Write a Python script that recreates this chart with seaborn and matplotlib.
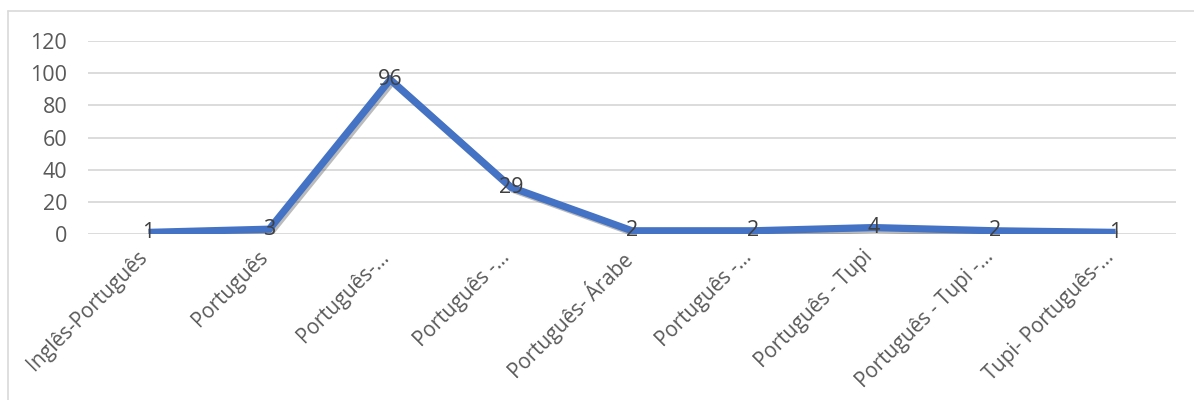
import matplotlib
matplotlib.use("Agg")
import matplotlib.pyplot as plt
import matplotlib.patheffects as pe
import matplotlib.transforms as mtransforms
from matplotlib.lines import Line2D
import seaborn as sns
import pandas as pd

# data
categorias = ["Inglês-Português", "Português", "Português-...", "Português -...",
              "Português- Árabe", "Português -...", "Português - Tupi",
              "Português - Tupi -...", "Tupi- Português-..."]
valores = [1, 3, 96, 29, 2, 2, 4, 2, 1]
yticks = [0, 20, 40, 60, 80, 100, 120]

df = pd.DataFrame({"cat": categorias, "val": valores})
df["pos"] = range(len(df))

sns.set_style("white")
plt.rcParams["font.family"] = ["Open Sans", "DejaVu Sans"]

fig = plt.figure(figsize=(11.94, 4), dpi=100)
ax = fig.add_axes([88 / 1194, 1 - 234 / 400, (1176 - 88) / 1194, (234 - 41) / 400])

sns.lineplot(data=df, x="pos", y="val", ax=ax, color="#4472C4", linewidth=5.2,
             solid_joinstyle="miter", solid_capstyle="butt",
             path_effects=[pe.SimpleLineShadow(offset=(1.5, -1.5), shadow_color="#555555", alpha=0.4),
                           pe.Normal()])

for x, y in zip(df["pos"], df["val"]):
    ax.text(x, y, str(y), ha="center", va="center", fontsize=15.5, color="#404040")

ax.set_xlim(-0.5, len(df) - 0.5)
ax.set_ylim(0, 120)
ax.set_yticks(yticks)
ax.set_yticklabels([str(t) for t in yticks], fontsize=15.5, color="#595959")
ax.set_xticks(df["pos"])
ax.set_xticklabels(categorias, rotation=45, ha="right", rotation_mode="anchor",
                   fontsize=14.8, color="#595959")
ax.tick_params(axis="y", length=0, pad=15)
ax.tick_params(axis="x", length=0, pad=9)
# nudge the rotated labels a bit to the left, like the original
shift = mtransforms.ScaledTranslation(-0.12, 0, fig.dpi_scale_trans)
for lbl in ax.get_xticklabels():
    lbl.set_transform(lbl.get_transform() + shift)
ax.set_xlabel("")
ax.set_ylabel("")
ax.grid(axis="y", color="#D9D9D9", linewidth=1.3)
ax.set_axisbelow(True)
for s in ax.spines.values():
    s.set_visible(False)

# chart frame
fig.add_artist(Line2D([8 / 1194, 1], [1 - 11 / 400, 1 - 11 / 400], color="#D9D9D9", linewidth=1.2))
fig.add_artist(Line2D([8 / 1194, 8 / 1194], [0, 1 - 11 / 400], color="#D9D9D9", linewidth=1.2))

fig.savefig("out.png", dpi=100)
